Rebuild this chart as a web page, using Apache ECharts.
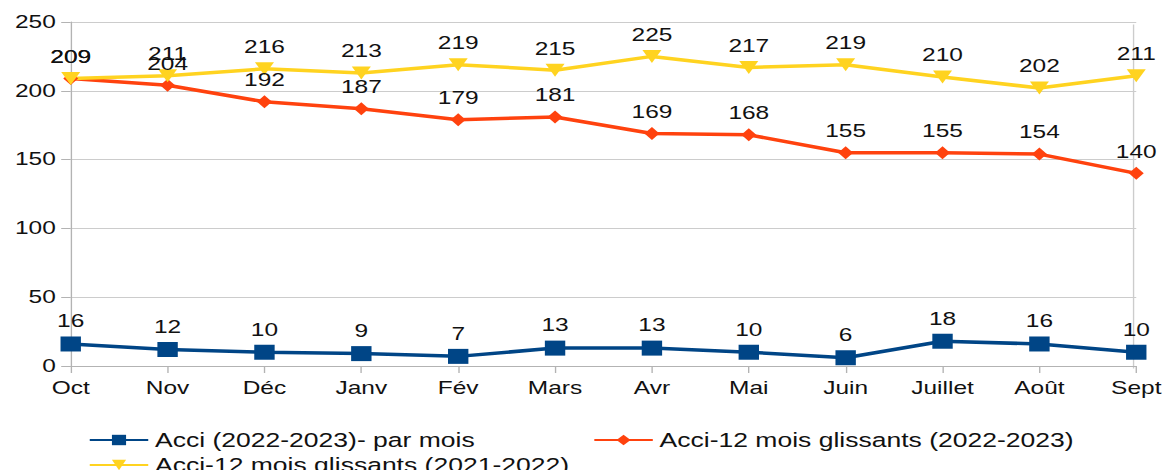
<!DOCTYPE html>
<html>
<head>
<meta charset="utf-8">
<script src="https://cdn.jsdelivr.net/npm/echarts@6/dist/echarts.min.js"></script>
<style>
  html, body { margin: 0; padding: 0; background: #fff; overflow: hidden; }
  /* l'image d'origine est étirée horizontalement : on dessine plus étroit puis on étire */
  #main { width: 857px; height: 470px; transform: scaleX(1.36); transform-origin: 0 0; }
</style>
</head>
<body>
<div id="main"></div>
<script>
var mois = ['Oct', 'Nov', 'Déc', 'Janv', 'Fév', 'Mars', 'Avr', 'Mai', 'Juin', 'Juillet', 'Août', 'Sept'];
var acciMois = [16, 12, 10, 9, 7, 13, 13, 10, 6, 18, 16, 10];
var glissants2223 = [209, 204, 192, 187, 179, 181, 169, 168, 155, 155, 154, 140];
var glissants2122 = [209, 211, 216, 213, 219, 215, 225, 217, 219, 210, 202, 211];

var nomBleu = 'Acci (2022-2023)- par mois';
var nomOrange = 'Acci-12 mois glissants (2022-2023)';
var nomJaune = 'Acci-12 mois glissants (2021-2022)';

var police = 'Liberation Sans';
var chart = echarts.init(document.getElementById('main'), null, { renderer: 'svg' });

function etiquette() {
    return { show: true, position: 'top', distance: 6, color: '#111', fontSize: 18, fontFamily: police };
}

var styleLegende = { fontSize: 19.5, color: '#111', fontFamily: police };

var option = {
    animation: false,
    textStyle: { fontFamily: police },
    grid: { left: 52, right: 21, top: 22, bottom: 104, containLabel: false },
    legend: [{
        data: [nomBleu],
        left: 60, top: 425,
        itemWidth: 43, itemHeight: 13,
        textStyle: styleLegende
    }, {
        data: [nomOrange],
        left: 431, top: 425,
        itemWidth: 43, itemHeight: 13,
        textStyle: styleLegende
    }, {
        data: [nomJaune],
        left: 60, top: 450,
        itemWidth: 43, itemHeight: 13,
        textStyle: styleLegende
    }],
    xAxis: {
        type: 'category',
        data: mois,
        boundaryGap: false,
        axisLine: { lineStyle: { color: '#b3b3b3' } },
        axisTick: { show: true, length: 7, lineStyle: { color: '#b3b3b3' } },
        axisLabel: { color: '#111', fontSize: 18, margin: 13, interval: 0 },
        splitLine: { show: false }
    },
    yAxis: {
        type: 'value',
        min: 0, max: 250, interval: 50,
        axisLine: { show: true, lineStyle: { color: '#b3b3b3' } },
        axisTick: { show: true, length: 7, lineStyle: { color: '#b3b3b3' } },
        axisLabel: { color: '#111', fontSize: 18, margin: 11 },
        splitLine: { show: true, lineStyle: { color: '#cccccc' } }
    },
    series: [{
        name: nomBleu,
        type: 'line',
        data: acciMois,
        symbol: 'rect', symbolSize: [15, 15],
        lineStyle: { width: 3.5, color: '#004586' },
        itemStyle: { color: '#004586' },
        label: etiquette()
    }, {
        name: nomOrange,
        type: 'line',
        data: glissants2223,
        symbol: 'diamond', symbolSize: [11, 13],
        lineStyle: { width: 3.5, color: '#ff420e' },
        itemStyle: { color: '#ff420e' },
        label: etiquette()
    }, {
        name: nomJaune,
        type: 'line',
        data: glissants2122,
        symbol: 'triangle', symbolRotate: 180, symbolSize: [14, 13],
        lineStyle: { width: 3.5, color: '#ffd320' },
        itemStyle: { color: '#ffd320' },
        label: etiquette()
    }],
    // bord droit de la zone de tracé
    graphic: [{
        type: 'line',
        right: 21, top: 22,
        shape: { x1: 0, y1: 0, x2: 0, y2: 344 },
        style: { stroke: '#cccccc', lineWidth: 1 }
    }]
};

chart.setOption(option);
</script>
</body>
</html>
